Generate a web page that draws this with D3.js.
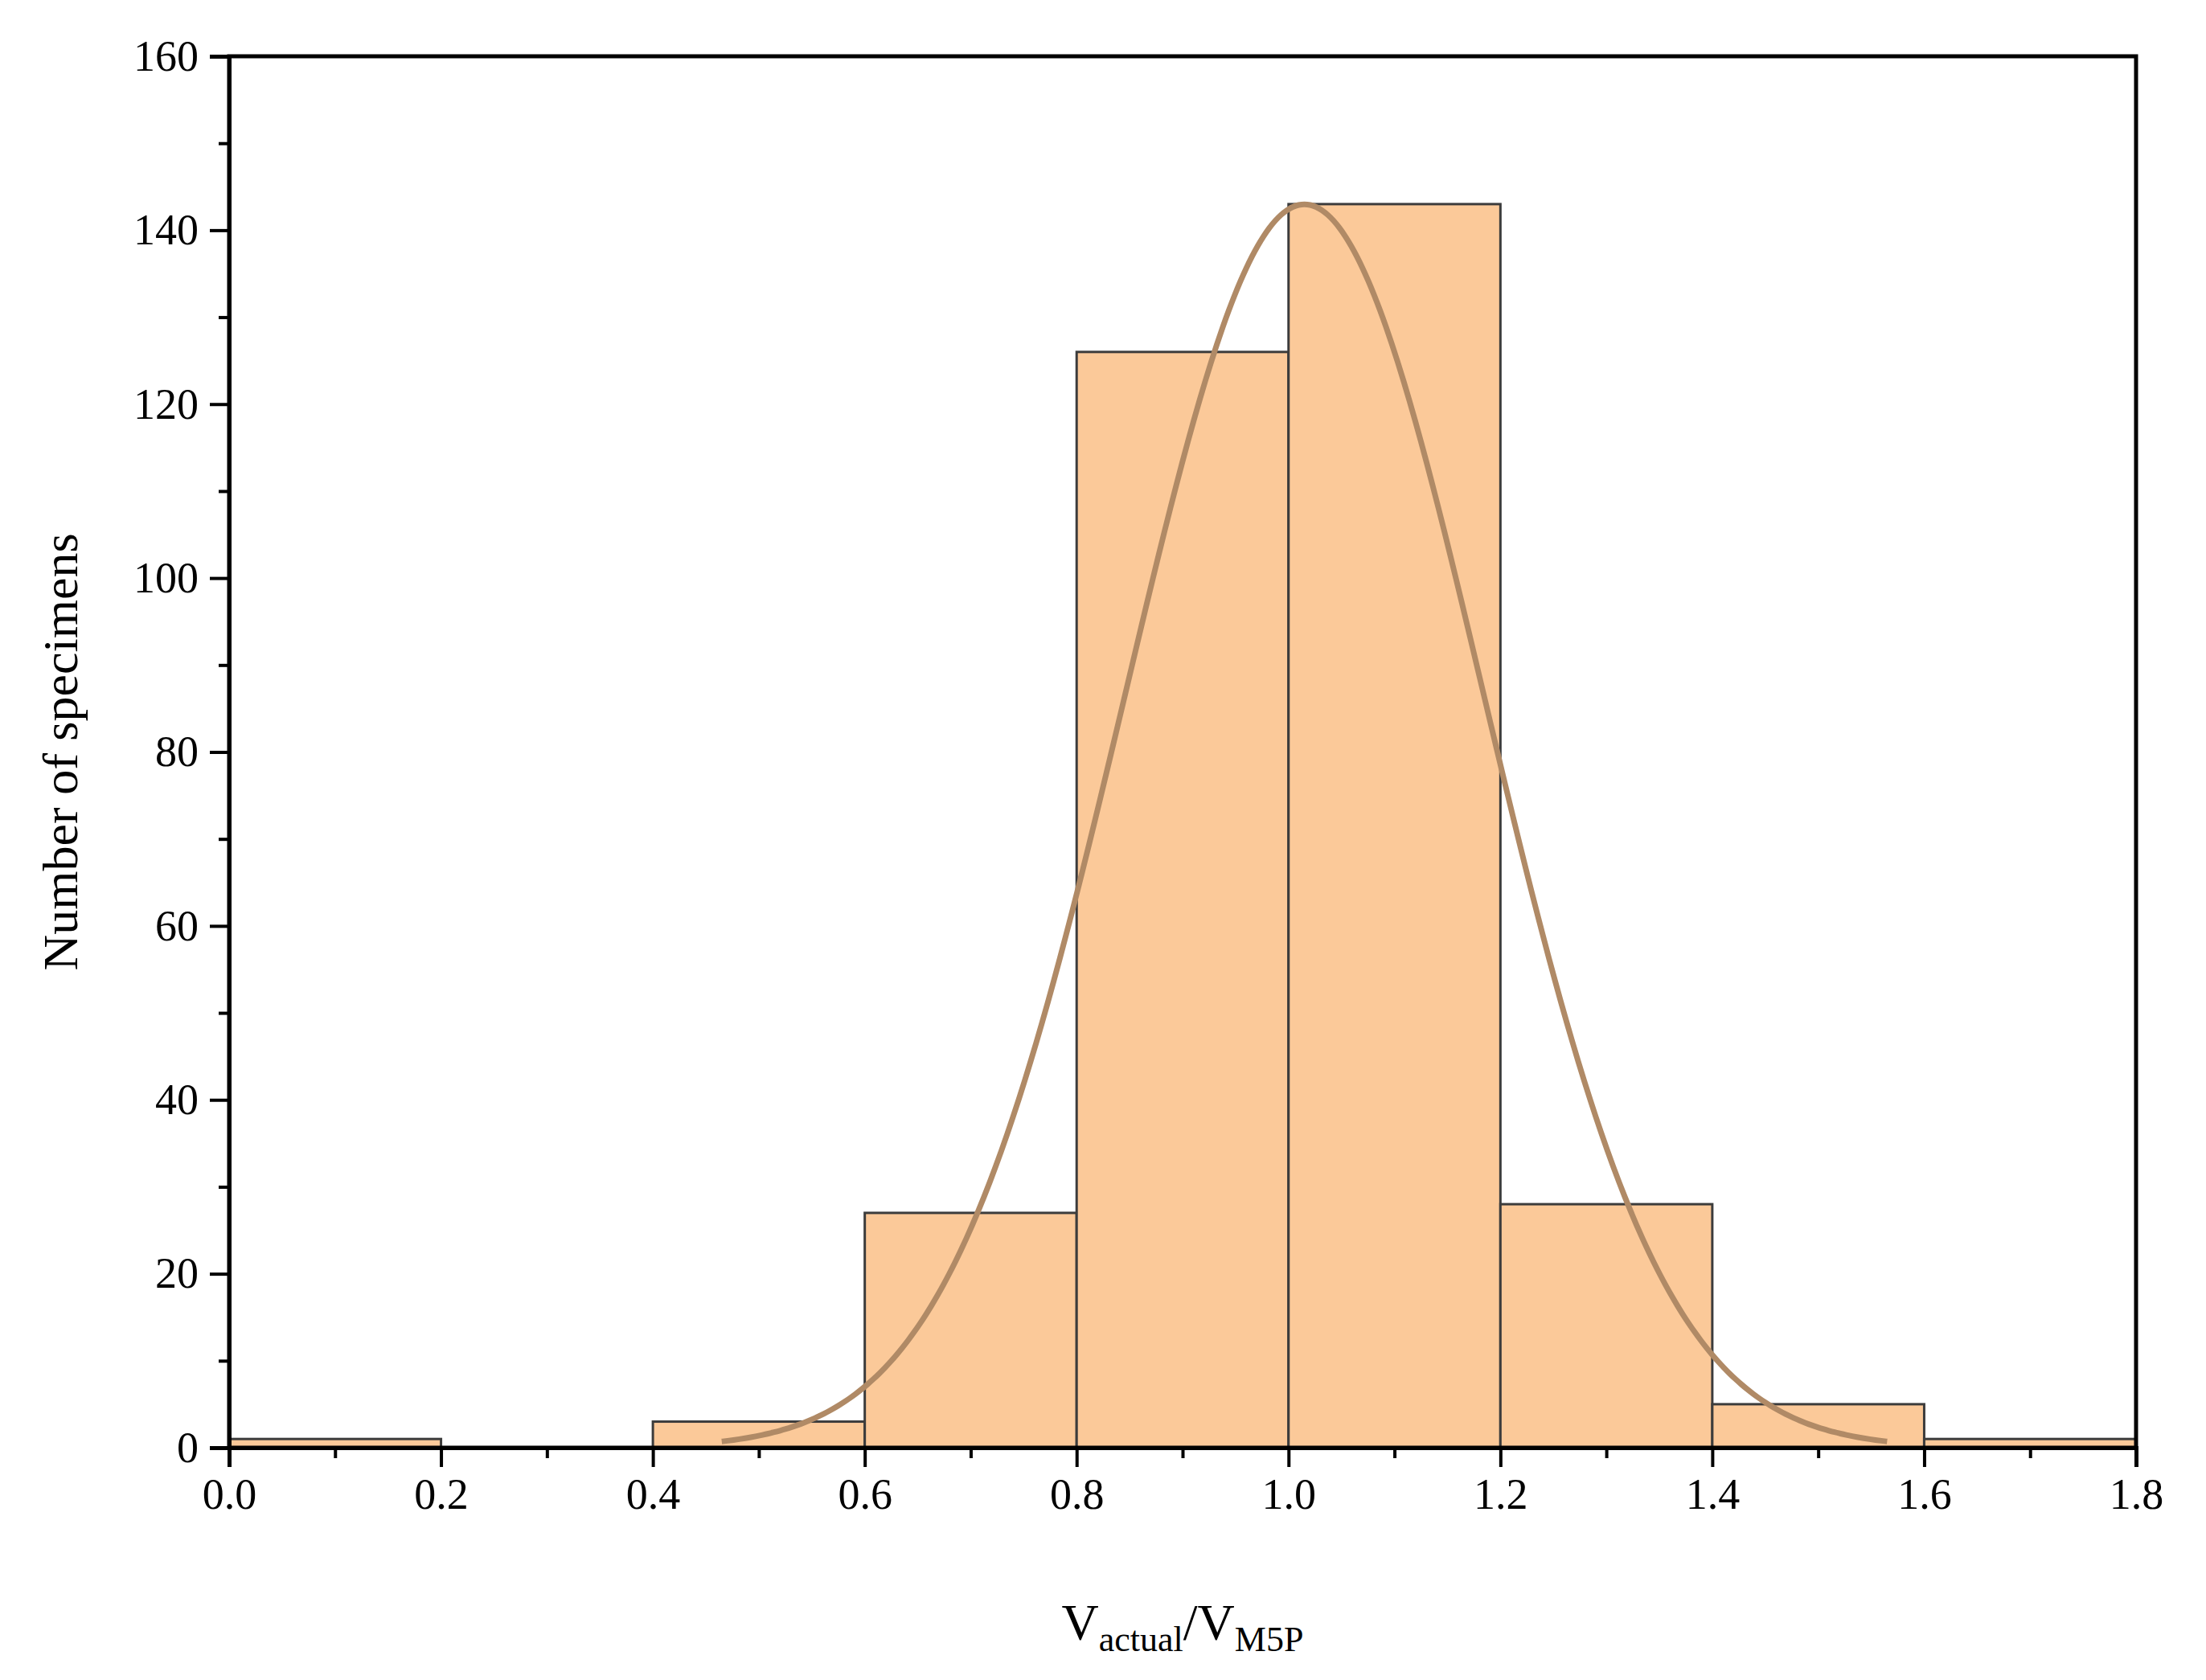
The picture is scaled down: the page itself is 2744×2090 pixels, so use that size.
<!DOCTYPE html>
<html><head><meta charset="utf-8">
<script src="https://cdn.jsdelivr.net/npm/d3@7"></script>
<style>body{margin:0;background:#fff}</style></head>
<body><svg id="c" width="2744" height="2090"></svg>
<script>
const binStarts = [0.0,0.2,0.4,0.6,0.8,1.0,1.2,1.4,1.6];
const binWidth = 0.2;
const counts = [1,0,3,27,126,143,28,5,1];
const xTicks = [0,0.2,0.4,0.6,0.8,1.0,1.2,1.4,1.6,1.8];
const yTicks = [0,20,40,60,80,100,120,140,160];
const fitMean = 1.015, fitSigma = 0.169, fitPeak = 143, fitRange = [0.465,1.565];

const W=2744,H=2090,L=285,R=2657,T=70,B=1801;
const svg=d3.select("#c");
const x=d3.scaleLinear().domain([0,1.8]).range([L,R]);
const y=d3.scaleLinear().domain([0,160]).range([B,T]);
const font="'Liberation Serif','Times New Roman',serif";

svg.append("g").selectAll("rect").data(binStarts.map((s,i)=>({s,c:counts[i]})).filter(d=>d.c>0))
 .join("rect").attr("x",d=>x(d.s)).attr("width",d=>x(d.s+binWidth)-x(d.s))
 .attr("y",d=>y(d.c)).attr("height",d=>y(0)-y(d.c))
 .attr("fill","#fbc999").attr("stroke","#3c3c3c").attr("stroke-width",3);

const pts=d3.range(0,201).map(i=>{const xv=fitRange[0]+(fitRange[1]-fitRange[0])*i/200;
 return [xv,fitPeak*Math.exp(-((xv-fitMean)**2)/(2*fitSigma*fitSigma))];});
svg.append("path").attr("d",d3.line().x(d=>x(d[0])).y(d=>y(d[1])).curve(d3.curveBasis)(pts))
 .attr("fill","none").attr("stroke","#b08a66").attr("stroke-width",7);

// frame
svg.append("rect").attr("x",L).attr("y",T).attr("width",R-L).attr("height",B-T)
 .attr("fill","none").attr("stroke","#000").attr("stroke-width",5);

const xa=svg.append("g").attr("transform",`translate(0,${B})`)
 .call(d3.axisBottom(x).tickValues(xTicks).tickFormat(d3.format(".1f")).tickSize(24).tickPadding(14));
const xm=svg.append("g").attr("transform",`translate(0,${B})`)
 .call(d3.axisBottom(x).tickValues(d3.range(0.1,1.8,0.2)).tickFormat("").tickSize(13));
const ya=svg.append("g").attr("transform",`translate(${L},0)`)
 .call(d3.axisLeft(y).tickValues(yTicks).tickSize(24).tickPadding(14));
const ym=svg.append("g").attr("transform",`translate(${L},0)`)
 .call(d3.axisLeft(y).tickValues(d3.range(10,160,20)).tickFormat("").tickSize(13));
[xa,xm,ya,ym].forEach(g=>{g.select(".domain").attr("stroke-width",5);
 g.selectAll(".tick line").attr("stroke-width",4);
 g.selectAll("text").attr("font-family",font).attr("font-size",54).attr("fill","#000");});

svg.append("text").attr("transform",`translate(96,${(T+B)/2}) rotate(-90)`).attr("text-anchor","middle")
 .attr("font-family",font).attr("font-size",62).text("Number of specimens");
const xl=svg.append("text").attr("x",(L+R)/2).attr("y",2040).attr("text-anchor","middle")
 .attr("font-family",font).attr("font-size",64);
xl.append("tspan").text("V");
xl.append("tspan").attr("font-size",44).attr("dy",14).text("actual");
xl.append("tspan").attr("dy",-14).text("/V");
xl.append("tspan").attr("font-size",44).attr("dy",14).text("M5P");
</script></body></html>
